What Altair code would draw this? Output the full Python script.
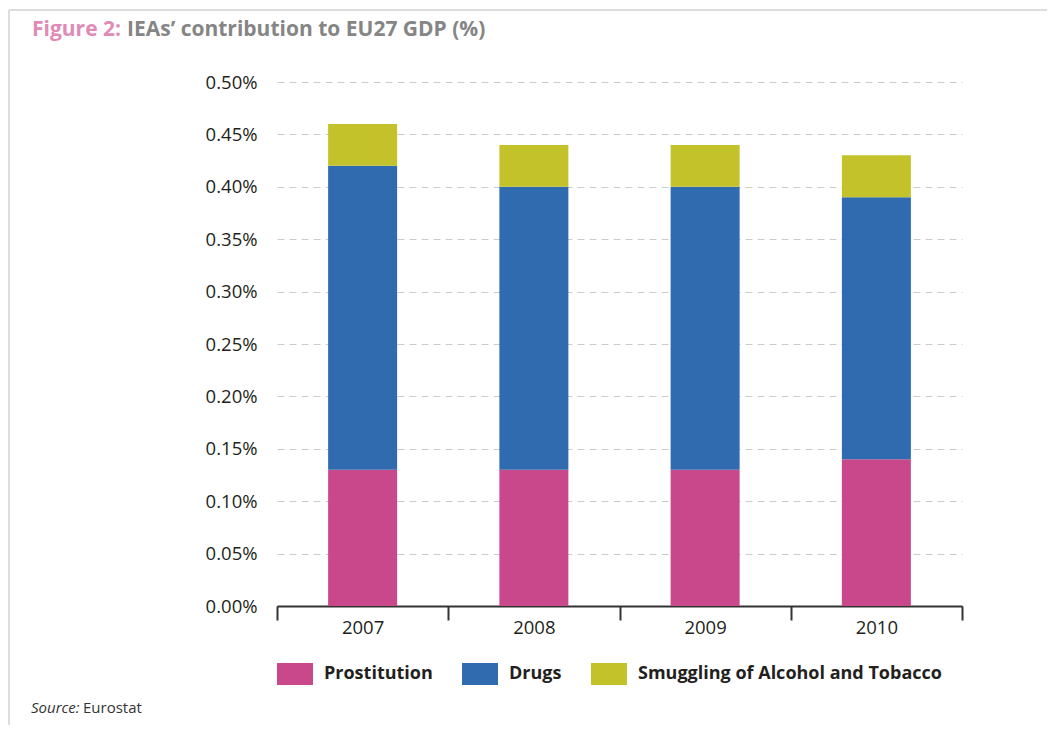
import altair as alt
import pandas as pd

years = ["2007", "2008", "2009", "2010"]
categories = ["Prostitution", "Drugs", "Smuggling of Alcohol and Tobacco"]
prostitution = [0.13, 0.13, 0.13, 0.14]
drugs = [0.29, 0.27, 0.27, 0.25]
smuggling = [0.04, 0.04, 0.04, 0.04]
colors = ["#C9488B", "#2F6BAE", "#C4C22A"]
y_ticks = [0.0, 0.05, 0.10, 0.15, 0.20, 0.25, 0.30, 0.35, 0.40, 0.45, 0.50]

rows = []
for i, y in enumerate(years):
    for k, (cat, vals) in enumerate(zip(categories, [prostitution, drugs, smuggling])):
        rows.append({"year": y, "cat": cat, "value": vals[i], "ord": k})
df = pd.DataFrame(rows)

FONT = "Open Sans"
W, H = 685, 524

bars = alt.Chart(df).mark_bar(size=69).encode(
    x=alt.X("year:N", title=None, sort=years,
            scale=alt.Scale(paddingInner=0, paddingOuter=0),
            axis=alt.Axis(labelAngle=0, labelFontSize=18.5, labelColor="#231f20",
                          labelFont=FONT, domainColor="#333333", domainWidth=2,
                          tickColor="#333333", tickWidth=2, tickSize=14,
                          tickBand="extent", labelPadding=-2, grid=False)),
    y=alt.Y("value:Q", title=None, stack="zero",
            scale=alt.Scale(domain=[0, 0.5], nice=False),
            axis=alt.Axis(values=y_ticks, labelExpr="format(datum.value, '.2f') + '%'",
                          domain=False, ticks=False, grid=True, gridDash=[7, 5],
                          gridColor="#cccccc", gridWidth=1, labelPadding=20,
                          labelFontSize=18.5, labelColor="#231f20", labelFont=FONT)),
    color=alt.Color("cat:N", sort=categories,
                    scale=alt.Scale(domain=categories, range=colors),
                    legend=alt.Legend(title=None, orient="none", legendX=0, legendY=574,
                                      direction="horizontal",
                                      symbolType="M-1,-0.611L1,-0.611L1,0.611L-1,0.611Z",
                                      symbolSize=1296, symbolStrokeWidth=0,
                                      symbolOpacity=1,
                                      labelFontSize=18, labelFontWeight="bold",
                                      labelFont=FONT, labelColor="#231f20",
                                      labelOffset=11, columnPadding=29, labelLimit=400)),
    order=alt.Order("ord:Q"),
)

def txt(text, x, y, color, size, weight="normal", style="normal"):
    return alt.Chart(pd.DataFrame({"t": [text]})).mark_text(
        align="left", baseline="alphabetic", fontSize=size, fontWeight=weight,
        fontStyle=style, font=FONT, color=color
    ).encode(text="t:N", x=alt.value(x), y=alt.value(y))

title1 = txt("Figure 2:", -245, -46, "#E08AB8", 21, "bold")
title2 = txt("IEAs\u2019 contribution to EU27 GDP (%)", -150, -46, "#858585", 21, "bold")
src1 = txt("Source:", -246, 631, "#333333", 15, style="italic")
src2 = txt("Eurostat", -194, 631, "#333333", 15)

frame_left = alt.Chart(pd.DataFrame({"a": [0]})).mark_rule(color="#dddddd", strokeWidth=2).encode(
    x=alt.value(-268), y=alt.value(-72), y2=alt.value(700))
frame_top = alt.Chart(pd.DataFrame({"a": [0]})).mark_rule(color="#dddddd", strokeWidth=2).encode(
    x=alt.value(-268), x2=alt.value(800), y=alt.value(-72))

chart = alt.layer(frame_left, frame_top, bars, title1, title2, src1, src2).properties(
    width=W, height=H,
    background="white",
    autosize=alt.AutoSizeParams(type="none"),
    padding={"left": 269, "top": 74, "right": 85, "bottom": 119},
).configure_view(strokeWidth=0, stroke="transparent")

chart.save("out.html", embed_options={"renderer": "svg", "actions": False})
